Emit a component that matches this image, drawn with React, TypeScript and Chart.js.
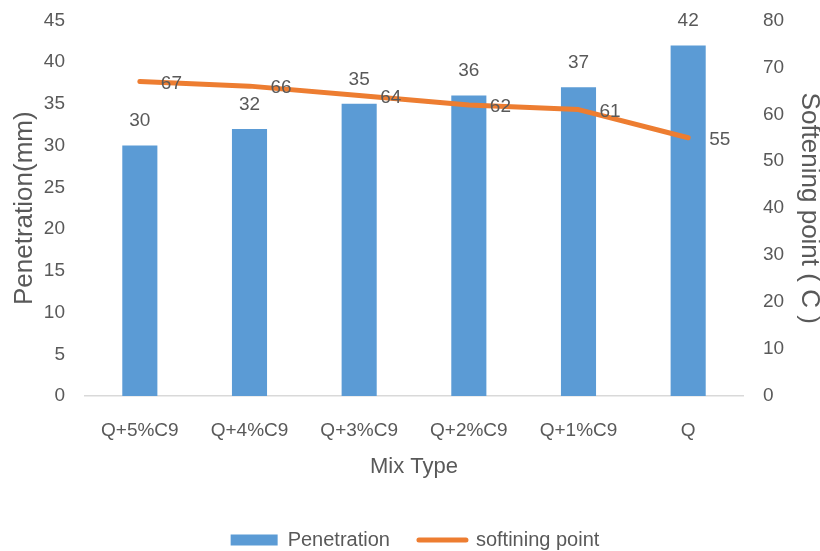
import { useEffect, useRef } from "react";
import { Chart, registerables } from "chart.js";

Chart.register(...registerables);

// Mix types and measured properties
const mixTypes = ["Q+5%C9", "Q+4%C9", "Q+3%C9", "Q+2%C9", "Q+1%C9", "Q"];
const penetration = [30, 32, 35, 36, 37, 42];
const softeningPoint = [67, 66, 64, 62, 61, 55];

const BLUE = "#5B9BD5";
const ORANGE = "#ED7D31";
const TEXT = "#595959";
const FONT = "'Liberation Sans', Arial, sans-serif";

// Writes each value next to its bar / line vertex
const valueLabels = {
  id: "valueLabels",
  afterDatasetsDraw(chart: any) {
    const ctx = chart.ctx;
    ctx.save();
    ctx.font = `19px ${FONT}`;
    ctx.fillStyle = TEXT;
    const bars = chart.getDatasetMeta(0).data;
    ctx.textAlign = "center";
    ctx.textBaseline = "bottom";
    bars.forEach((el: any, i: number) => {
      ctx.fillText(String(penetration[i]), el.x, el.y - 15);
    });
    const pts = chart.getDatasetMeta(1).data;
    ctx.textAlign = "left";
    ctx.textBaseline = "middle";
    pts.forEach((el: any, i: number) => {
      ctx.fillText(String(softeningPoint[i]), el.x + 21, el.y + 2);
    });
    ctx.restore();
  },
};

// Invisible tick marks keep the labels clear of the plot area
const hiddenTicks = {
  display: false,
  drawTicks: true,
  tickLength: 11,
  tickColor: "rgba(0,0,0,0)",
};

export default function App() {
  const ref = useRef<HTMLCanvasElement>(null);

  useEffect(() => {
    if (!ref.current) return;
    const chart = new Chart(ref.current, {
      type: "bar",
      data: {
        labels: mixTypes,
        datasets: [
          {
            type: "bar",
            label: "Penetration",
            data: penetration,
            backgroundColor: BLUE,
            yAxisID: "y",
            barPercentage: 0.64,
            categoryPercentage: 0.5,
            order: 2,
          },
          {
            type: "line",
            label: "softining point",
            data: softeningPoint,
            borderColor: ORANGE,
            backgroundColor: ORANGE,
            borderWidth: 5,
            borderCapStyle: "round",
            borderJoinStyle: "round",
            pointRadius: 0,
            tension: 0,
            yAxisID: "y1",
            order: 1,
          },
        ],
      },
      plugins: [valueLabels],
      options: {
        animation: false,
        responsive: false,
        layout: { padding: { top: 0, left: 8, right: -2, bottom: -9 } },
        plugins: {
          tooltip: { enabled: false },
          legend: {
            position: "bottom",
            labels: {
              usePointStyle: true,
              pointStyleWidth: 47,
              boxHeight: 11,
              padding: 29,
              color: TEXT,
              font: { family: FONT, size: 20 },
              generateLabels: () => [
                {
                  text: "Penetration",
                  fillStyle: BLUE,
                  strokeStyle: BLUE,
                  lineWidth: 0,
                  pointStyle: "rect",
                  datasetIndex: 0,
                  hidden: false,
                  fontColor: TEXT,
                } as any,
                {
                  text: "softining point",
                  fillStyle: ORANGE,
                  strokeStyle: ORANGE,
                  lineWidth: 5,
                  lineCap: "round",
                  pointStyle: "line",
                  datasetIndex: 1,
                  hidden: false,
                  fontColor: TEXT,
                } as any,
              ],
            },
          },
        },
        scales: {
          x: {
            grid: { display: false, drawTicks: false },
            border: { display: true, color: "#D9D9D9", width: 1.5 },
            ticks: { color: TEXT, font: { family: FONT, size: 19 }, padding: 23, maxRotation: 0 },
            title: {
              display: true,
              text: "Mix Type",
              color: TEXT,
              font: { family: FONT, size: 22 },
              padding: { top: 12, bottom: 21 },
            },
            afterFit: (s: any) => {
              s.height = 105;
            },
          },
          y: {
            position: "left",
            min: 0,
            max: 45,
            ticks: { stepSize: 5, color: TEXT, font: { family: FONT, size: 19 }, padding: 9 },
            grid: hiddenTicks,
            border: { display: false },
            title: {
              display: true,
              text: "Penetration(mm)",
              color: TEXT,
              font: { family: FONT, size: 26, lineHeight: 1 },
              padding: { top: 4, bottom: 0 },
            },
            afterFit: (s: any) => {
              s.width = 77;
            },
          },
          y1: {
            position: "right",
            min: 0,
            max: 80,
            ticks: { stepSize: 10, color: TEXT, font: { family: FONT, size: 19 }, padding: 9 },
            grid: { ...hiddenTicks, drawOnChartArea: false },
            border: { display: false },
            title: {
              display: true,
              text: "Softening point ( C )",
              color: TEXT,
              font: { family: FONT, size: 26, lineHeight: 1 },
              padding: { top: 0, bottom: 0 },
            },
            afterFit: (s: any) => {
              s.width = 79;
            },
          },
        },
      },
    });
    return () => chart.destroy();
  }, []);

  return (
    <div style={{ position: "fixed", left: 0, top: 0, width: 820, height: 551, background: "#fff" }}>
      <canvas ref={ref} width={820} height={551} />
    </div>
  );
}
